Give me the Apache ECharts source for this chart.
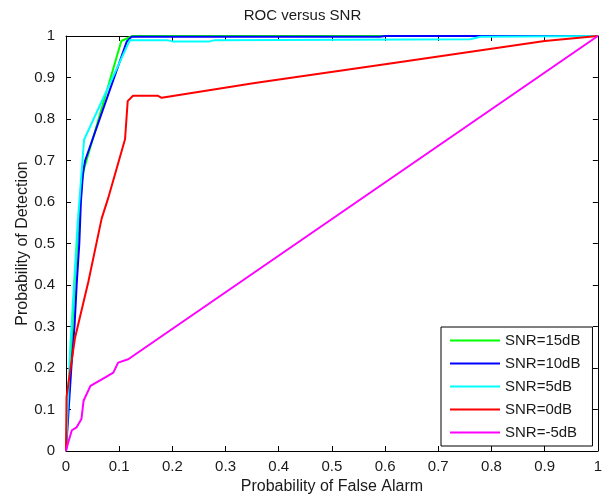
<!DOCTYPE html>
<html>
<head>
<meta charset="utf-8">
<title>ROC versus SNR</title>
<script src="https://cdn.jsdelivr.net/npm/echarts@6/dist/echarts.min.js"></script>
<style>
  html, body { margin: 0; padding: 0; background: #fff; }
  #chart { width: 605px; height: 500px; }
</style>
</head>
<body>
<div id="chart"></div>
<script>
// ROC curves: [probability of false alarm, probability of detection]
const seriesNames = ['SNR=15dB', 'SNR=10dB', 'SNR=5dB', 'SNR=0dB', 'SNR=-5dB'];
const seriesColors = ['#00ff00', '#0000ff', '#00ffff', '#ff0000', '#ff00ff'];

const rocSnr15 = [
  [0, 0], [0.004, 0.12], [0.010, 0.25], [0.016, 0.40], [0.024, 0.55],
  [0.030, 0.65], [0.034, 0.68], [0.104, 0.988], [0.125, 1.0], [1, 1]
];
const rocSnr10 = [
  [0, 0], [0.005, 0.10], [0.010, 0.20], [0.016, 0.30], [0.020, 0.40],
  [0.025, 0.50], [0.028, 0.60], [0.032, 0.67], [0.036, 0.70],
  [0.114, 0.986], [0.123, 0.998], [0.59, 0.998], [0.60, 1.0], [1, 1]
];
const rocSnr5 = [
  [0, 0], [0.003, 0.10], [0.008, 0.25], [0.015, 0.40], [0.022, 0.55],
  [0.028, 0.65], [0.034, 0.75], [0.120, 0.990], [0.19, 0.990],
  [0.20, 0.987], [0.27, 0.987], [0.28, 0.990], [0.76, 0.992],
  [0.78, 0.998], [1, 1]
];
const rocSnr0 = [
  [0, 0], [0.001, 0.13], [0.0075, 0.19], [0.017, 0.273], [0.042, 0.408],
  [0.067, 0.56], [0.079, 0.608], [0.111, 0.751], [0.116, 0.843],
  [0.126, 0.856], [0.173, 0.856], [0.180, 0.851], [0.355, 0.887],
  [0.60, 0.932], [0.90, 0.988], [1, 1]
];
const rocSnrM5 = [
  [0, 0], [0.004, 0.02], [0.011, 0.05], [0.020, 0.057], [0.029, 0.077],
  [0.033, 0.121], [0.046, 0.157], [0.073, 0.177], [0.089, 0.189],
  [0.098, 0.213], [0.117, 0.221], [1, 1]
];
const rocData = [rocSnr15, rocSnr10, rocSnr5, rocSnr0, rocSnrM5];

const xTicks = { min: 0, max: 1, interval: 0.1 };
const yTicks = { min: 0, max: 1, interval: 0.1 };

const fontFamily = 'Liberation Sans, Arial, sans-serif';
const textColor = '#1a1a1a';

function tickLabel(v) {
  if (v === 0) return '0';
  if (Math.abs(v - 1) < 1e-9) return '1';
  return v.toFixed(1);
}

const chart = echarts.init(document.getElementById('chart'), null, { renderer: 'canvas' });

const axisLine = { show: true, onZero: false, lineStyle: { color: '#000', width: 1 } };
const axisTick = { show: true, inside: true, length: 5, lineStyle: { color: '#000', width: 1 } };

chart.setOption({
  animation: false,
  backgroundColor: '#fff',
  title: {
    text: 'ROC versus SNR',
    left: 'center',
    top: 3,
    textStyle: { fontFamily, fontSize: 15, fontWeight: 'normal', color: textColor }
  },
  grid: { left: 66, right: 6, top: 36, bottom: 46, containLabel: false, show: false },
  legend: {
    orient: 'vertical',
    left: 441,
    top: 327,
    padding: [6, 12, 6, 9],
    icon: 'rect',
    itemWidth: 50,
    itemHeight: 2,
    itemGap: 8,
    borderColor: '#000',
    borderWidth: 1,
    backgroundColor: '#fff',
    data: seriesNames,
    textStyle: { fontFamily, fontSize: 15, color: textColor, lineHeight: 15 }
  },
  xAxis: [
    {
      type: 'value', position: 'bottom',
      min: xTicks.min, max: xTicks.max, interval: xTicks.interval,
      name: 'Probability of False Alarm', nameLocation: 'middle', nameGap: 28,
      nameMoveOverlap: false,
      nameTextStyle: { fontFamily, fontSize: 16, color: textColor },
      axisLine, axisTick,
      axisLabel: { formatter: tickLabel, margin: 8, fontFamily, fontSize: 15, color: textColor },
      splitLine: { show: false }
    },
    {
      type: 'value', position: 'top',
      min: xTicks.min, max: xTicks.max, interval: xTicks.interval,
      axisLine, axisTick, axisLabel: { show: false }, splitLine: { show: false }
    }
  ],
  yAxis: [
    {
      type: 'value', position: 'left',
      min: yTicks.min, max: yTicks.max, interval: yTicks.interval,
      name: 'Probability of Detection', nameLocation: 'middle', nameGap: 35, nameRotate: 90,
      nameMoveOverlap: false,
      nameTextStyle: { fontFamily, fontSize: 16, color: textColor },
      axisLine, axisTick,
      axisLabel: { formatter: tickLabel, margin: 11, fontFamily, fontSize: 15, color: textColor },
      splitLine: { show: false }
    },
    {
      type: 'value', position: 'right',
      min: yTicks.min, max: yTicks.max, interval: yTicks.interval,
      axisLine, axisTick, axisLabel: { show: false }, splitLine: { show: false }
    }
  ],
  series: rocData.map((data, i) => ({
    name: seriesNames[i],
    type: 'line',
    xAxisIndex: 0,
    yAxisIndex: 0,
    data,
    symbol: 'none',
    color: seriesColors[i],
    lineStyle: { color: seriesColors[i], width: 2 },
    clip: true
  }))
});
</script>
</body>
</html>
